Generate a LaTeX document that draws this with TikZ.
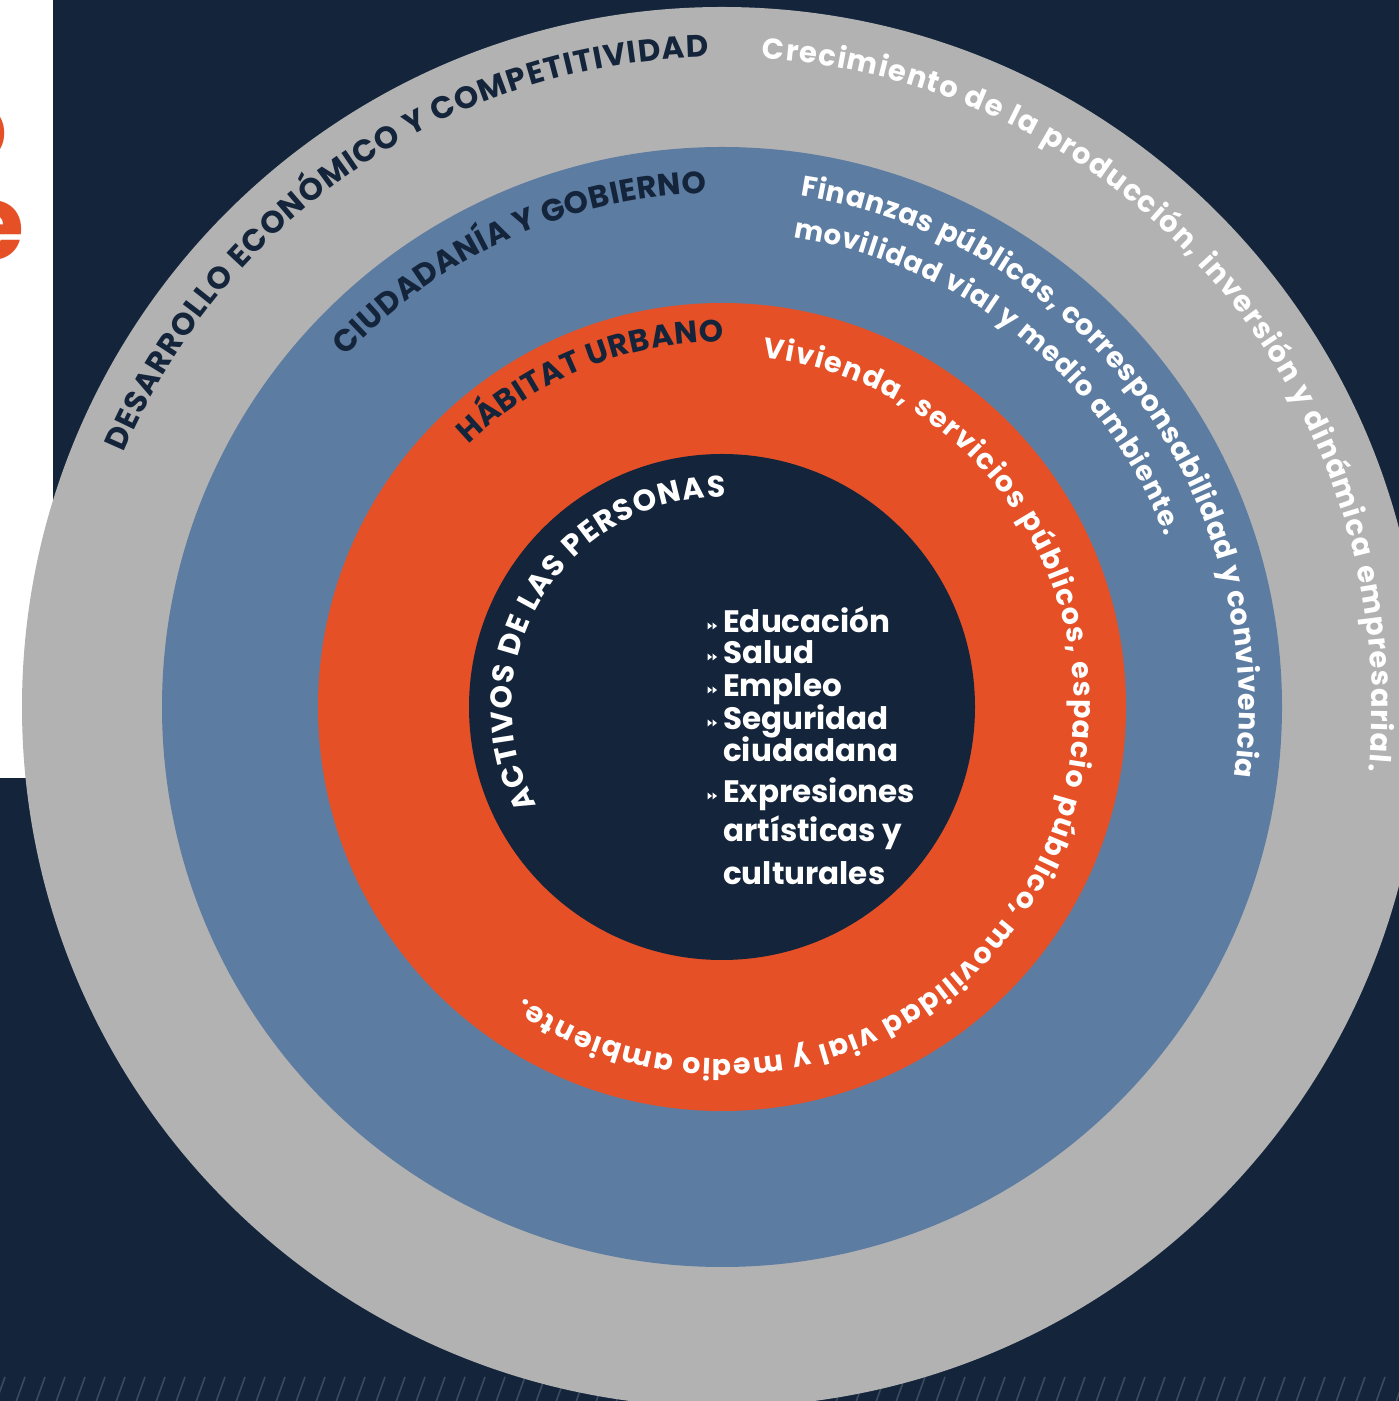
\documentclass[tikz,border=0pt]{standalone}
\usepackage{fontspec}
\setmainfont{Poppins}
\usetikzlibrary{decorations.text}
\definecolor{navy}{HTML}{14253B}
\definecolor{ringgray}{HTML}{B2B2B2}
\definecolor{ringblue}{HTML}{5D7CA2}
\definecolor{ringorange}{HTML}{E55027}
\definecolor{hatchcol}{HTML}{3B4A5C}
\begin{document}
\begin{tikzpicture}[x=1pt,y=1pt,
  ringtext/.style={decorate, decoration={text along path, text align={fit to path}, #1}},
  listtext/.style={anchor=base west, inner sep=0pt, text=white, font=\fontsize{31}{31}\selectfont\bfseries},
  bulletmark/.style={fill=white, draw=none},
]
\useasboundingbox (0,0) rectangle (1399,1401);
\fill[navy] (0,0) rectangle (1399,1401);
% hatch band
\foreach \i in {0,...,71} { \draw[hatchcol, line width=1.6pt] (\i*20-4, -1) -- (\i*20+5, 24); }
% white panel with clipped orange letters
\fill[white] (0,623) rectangle (53,1401);
\begin{scope}
  \clip (0,623) rectangle (53,1401);
  \node[anchor=base east, inner sep=0pt, text=ringorange, font=\fontsize{104}{104}\selectfont\bfseries] (le) at (25,1141) {e};
  \node[anchor=base east, inner sep=0pt, text=ringorange, font=\fontsize{104}{104}\selectfont\bfseries] (lo) at (8,1238) {o};
\end{scope}
% rings
\coordinate (C) at (722,694);
\fill[ringgray] (C) circle[radius=700pt];
\fill[ringblue] (C) circle[radius=560pt];
\fill[ringorange] (C) circle[radius=404pt];
\fill[navy] (C) circle[radius=253pt];
% outer ring texts
\path[ringtext={text={|\fontsize{31}{33}\selectfont\bfseries\color{navy}|DESARROLLO ECONÓMICO Y COMPETITIVIDAD}}]
  (C) ++(157:650pt) arc[start angle=157, end angle=91.2, radius=650pt];
\path[ringtext={text={|\fontsize{29}{31}\selectfont\bfseries\color{white}|Crecimiento de la producción, inversión y dinámica empresarial.}}]
  (C) ++(86.5:650pt) arc[start angle=86.5, end angle=-5.7, radius=650pt];
% blue ring texts
\path[ringtext={text={|\fontsize{31}{33}\selectfont\bfseries\color{navy}|CIUDADANÍA Y GOBIERNO}}]
  (C) ++(137:514pt) arc[start angle=137, end angle=91.7, radius=514pt];
\path[ringtext={text={|\fontsize{28.5}{31}\selectfont\bfseries\color{white}|Finanzas públicas, corresponsabilidad y convivencia}}]
  (C) ++(81.3:517pt) arc[start angle=81.3, end angle=-7.7, radius=517pt];
\path[ringtext={text={|\fontsize{27.5}{30}\selectfont\bfseries\color{white}|movilidad vial y medio ambiente.}}]
  (C) ++(81.4:475pt) arc[start angle=81.4, end angle=21, radius=475pt];
% orange ring texts
\path[ringtext={text={|\fontsize{31}{33}\selectfont\bfseries\color{navy}|HÁBITAT URBANO}}]
  (C) ++(134:365pt) arc[start angle=134, end angle=89.8, radius=365pt];
\path[ringtext={text={|\fontsize{28.5}{31}\selectfont\bfseries\color{white}|Vivienda, servicios públicos, espacio público, movilidad vial y medio ambiente.}}]
  (C) ++(83.4:352pt) arc[start angle=83.4, end angle=-124.3, radius=352pt];
% inner circle text
\path[ringtext={text={|\fontsize{30}{32}\selectfont\bfseries\color{white}|ACTIVOS DE LAS PERSONAS}}]
  (C) ++(208:210pt) arc[start angle=208, end angle=89, radius=210pt];
% list
\node[listtext] (l1) at (723,768) {Educación};
\node[listtext] (l2) at (723,737) {Salud};
\node[listtext] (l3) at (723,704) {Empleo};
\node[listtext] (l4) at (723,671) {Seguridad};
\node[listtext] (l5) at (723,639) {ciudadana};
\node[listtext] (l6) at (723,598) {Expresiones};
\node[listtext] (l7) at (723,559) {artísticas y};
\node[listtext] (l8) at (723,516) {culturales};
\foreach \n in {l1,l2,l3,l4,l6} {
  \fill[bulletmark] ([xshift=-15.5pt,yshift=10.5pt]\n.base west) -- ++(4.5,-3.5) -- ++(-4.5,-3.5) -- cycle;
  \fill[bulletmark] ([xshift=-10.5pt,yshift=10.5pt]\n.base west) -- ++(4.5,-3.5) -- ++(-4.5,-3.5) -- cycle;
}
\end{tikzpicture}
\end{document}
